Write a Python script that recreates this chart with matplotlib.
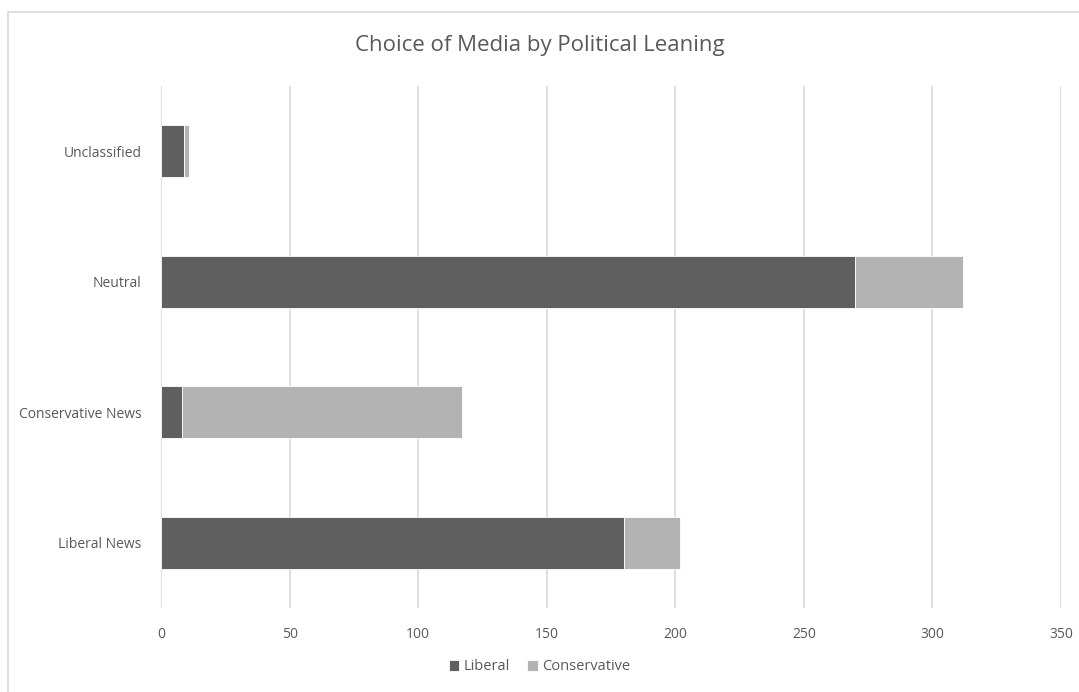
import matplotlib
matplotlib.use("Agg")
import matplotlib.pyplot as plt
from matplotlib.patches import Rectangle

categories = ["Liberal News", "Conservative News", "Neutral", "Unclassified"]
liberal = [180, 8, 270, 9]
conservative = [22, 109, 42, 2]
series_names = ["Liberal", "Conservative"]
xticks = [0, 50, 100, 150, 200, 250, 300, 350]

plt.rcParams['font.family'] = ['Open Sans', 'DejaVu Sans']
text_color = '#595959'

fig = plt.figure(figsize=(10.79, 6.92), dpi=100)
ax = fig.add_axes([161/1079, 1 - 608/692, 900/1079, 522/692])

ypos = range(len(categories))
ax.barh(ypos, liberal, height=0.4, color='#5f5f5f', edgecolor='white', linewidth=0.6, label=series_names[0], zorder=3)
ax.barh(ypos, conservative, left=liberal, height=0.4, color='#b3b3b3', edgecolor='white', linewidth=0.6, label=series_names[1], zorder=3)

ax.set_xlim(0, 350)
ax.set_ylim(-0.5, len(categories) - 0.5)
ax.set_xticks(xticks)
ax.set_yticks(list(ypos))
ax.set_yticklabels(categories)
ax.grid(axis='x', color='#d9d9d9', linewidth=1.2, zorder=0)
for s in ax.spines.values():
    s.set_visible(False)
ax.tick_params(axis='both', length=0, labelsize=10, colors=text_color)
ax.tick_params(axis='x', pad=14)
ax.tick_params(axis='y', pad=14)

fig.text(0.5, 1 - 46/692, "Choice of Media by Political Leaning", ha='center', va='center',
         fontsize=16, color=text_color)

leg = fig.legend(loc='center', bbox_to_anchor=(0.5, 1 - 667/692), ncol=2, frameon=False,
                 fontsize=10.5, handlelength=0.7, handleheight=0.7, handletextpad=0.3,
                 columnspacing=1.2, labelcolor=text_color)

fig.patches.append(Rectangle((8/1079, -0.1), 1.2, 1 - 12/692 + 0.1, transform=fig.transFigure,
                             fill=False, edgecolor='#d9d9d9', linewidth=1.2))

fig.savefig("out.png", dpi=100)
